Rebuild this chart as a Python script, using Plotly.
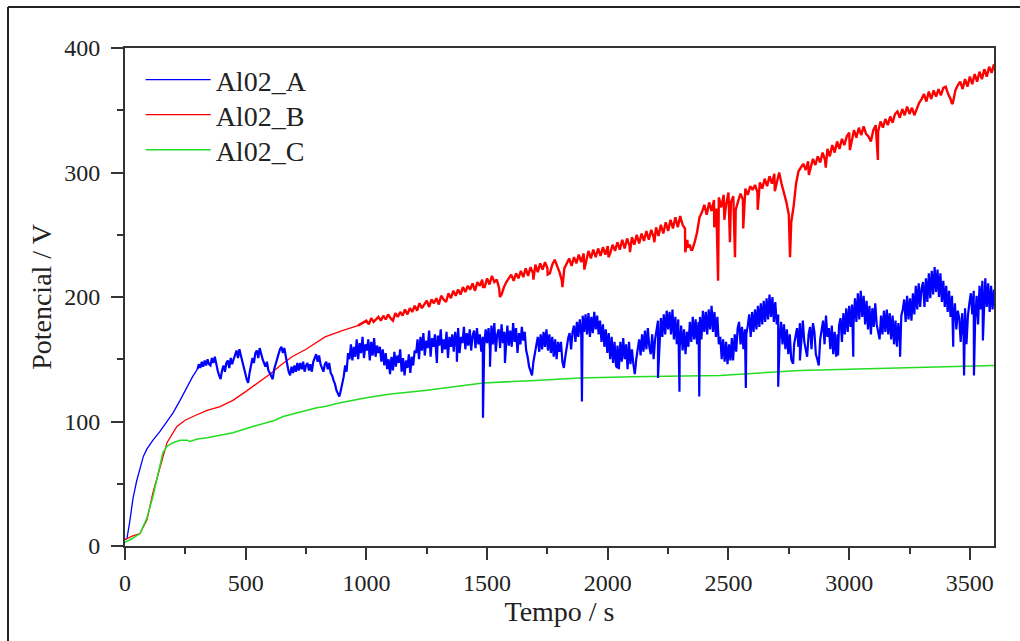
import plotly.graph_objects as go

# ---------------- data ----------------
# Al02_A : smooth rise, then a noisy record sampled every 6 s from 306 s
A_rise_t = [0, 8, 20, 33, 48, 62, 76, 91, 116, 145, 174, 199, 228, 257, 280, 300]
A_rise_v = [5, 6, 20, 38, 52, 63, 72, 78, 85, 92, 100, 107, 117, 128, 136, 142]
A_dense_start, A_dense_step = 306, 6
A_dense_v = [
    146, 143, 148, 144, 149, 145, 150, 146, 145, 151, 147, 152, 145, 141, 137, 134, 141, 145, 140, 147, 149, 143, 151, 146, 150,
    153, 157, 151, 158, 153, 149, 145, 139, 134, 131, 139, 146, 151, 147, 155, 157, 151, 159, 153, 150, 147, 144, 148, 141, 139,
    137, 134, 142, 146, 152, 155, 158, 160, 155, 159, 151, 146, 140, 137, 144, 139, 145, 140, 147, 141, 147, 142, 148, 140, 145,
    147, 141, 146, 140, 148, 151, 154, 148, 153, 146, 142, 140, 146, 148, 142, 147, 139, 137, 133, 130, 125, 122, 120, 125, 130,
    136, 145, 140, 155, 150, 162, 149, 160, 152, 166, 150, 163, 155, 168, 151, 162, 157, 166, 149, 164, 153, 167, 152, 161, 155,
    160, 148, 158, 145, 155, 142, 150, 138, 152, 141, 156, 144, 153, 147, 158, 140, 151, 137, 149, 143, 154, 139, 152, 145, 157,
    155, 166, 150, 168, 157, 171, 153, 165, 159, 173, 152, 167, 160, 170, 154, 169, 161, 174, 155, 166, 158, 172, 151, 168, 160,
    170, 156, 172, 160, 175, 155, 168, 163, 176, 158, 171, 161, 174, 157, 169, 173, 159, 175, 162, 170, 156, 168, 160, 174, 163,
    175, 158, 177, 162, 179, 156, 170, 174, 159, 178, 163, 172, 157, 177, 161, 173, 160, 179, 164, 175, 155, 171, 162, 176, 165,
    172, 157, 152, 144, 140, 137, 148, 155, 163, 168, 156, 170, 158, 172, 160, 174, 157, 170, 155, 168, 152, 166, 150, 164, 156,
    164, 148, 143, 152, 160, 167, 171, 158, 172, 177, 164, 180, 168, 182, 170, 185, 172, 186, 170, 187, 168, 184, 171, 188, 174,
    185, 170, 181, 164, 178, 160, 174, 155, 171, 150, 168, 147, 164, 145, 161, 142, 164, 148, 167, 150, 162, 142, 164, 146, 158,
    146, 138, 150, 160, 166, 153, 170, 156, 173, 158, 175, 160, 154, 170, 150, 166, 174, 181, 164, 183, 168, 186, 170, 189, 174,
    188, 170, 190, 166, 184, 162, 182, 160, 177, 157, 174, 154, 172, 160, 180, 164, 184, 166, 182, 162, 180, 184, 166, 189, 172,
    188, 170, 190, 174, 193, 172, 188, 168, 184, 162, 168, 150, 166, 148, 164, 146, 162, 149, 167, 152, 170, 156, 175, 180, 162,
    176, 158, 174, 170, 177, 186, 168, 188, 172, 190, 174, 193, 176, 195, 178, 197, 180, 199, 182, 202, 184, 200, 180, 196, 178,
    186, 166, 180, 162, 178, 158, 174, 154, 170, 150, 147, 162, 168, 175, 160, 179, 162, 181, 164, 157, 152, 170, 176, 158, 179,
    172, 154, 150, 145, 166, 174, 181, 162, 185, 168, 175, 158, 177, 154, 172, 152, 170, 177, 183, 164, 187, 170, 191, 172, 193,
    176, 194, 178, 199, 180, 203, 182, 205, 184, 201, 178, 197, 174, 193, 170, 191, 176, 195, 178, 172, 166, 185, 170, 189, 172,
    190, 170, 187, 166, 185, 162, 181, 160, 179, 164, 185, 190, 198, 180, 201, 182, 199, 181, 203, 186, 209, 190, 211, 192, 207,
    212, 192, 215, 196, 219, 199, 221, 202, 224, 204, 222, 200, 219, 196, 213, 192, 209, 188, 205, 184, 201, 180, 195, 174, 189,
    183, 164, 187, 168, 191, 162, 185, 195, 203, 186, 205, 182, 201, 178, 209, 190, 213, 186, 215, 192, 211, 188, 209, 190, 206,
]
A_spike_t = [1292, 1375, 1483, 1512, 1574, 1893, 2038, 2208, 2297, 2379, 2472,
             2519, 2572, 2706, 2768, 2796, 2954, 3017, 3211, 3431, 3476, 3517, 3554]
A_spike_v = [147, 148, 103, 144, 147, 116, 143, 135, 124, 120, 151,
             149, 127, 128, 147, 149, 153, 152, 152, 160, 137, 137, 165]

# Al02_B : smooth part, then noisy record sampled every 10 s from 1000 s
B_rise_t = [0, 8, 30, 62, 91, 116, 145, 174, 215, 249, 282, 340, 394, 447,
            500, 551, 600, 650, 692, 750, 829, 900, 965]
B_rise_v = [5, 6, 8, 10, 21, 43, 63, 83, 96, 101, 104, 109, 112, 117,
            124, 131, 138, 146, 152, 158, 168, 173, 177]
B_dense_start, B_dense_step = 1000, 10
B_dense_v = [
    181, 178, 183, 180, 182, 184, 181, 185, 182, 186, 183, 181, 187, 184, 188, 185, 190, 186, 191, 188,
    193, 189, 195, 191, 194, 197, 192, 198, 195, 199, 194, 201, 198, 196, 203, 199, 205, 201, 206, 202,
    208, 204, 209, 206, 211, 205, 212, 209, 214, 208, 215, 210, 217, 212, 214, 207, 202, 208, 212, 215,
    218, 213, 219, 215, 221, 216, 223, 217, 224, 219, 226, 220, 227, 222, 228, 223, 219, 226, 230, 225,
    220, 213, 223, 227, 231, 225, 232, 227, 234, 228, 235, 229, 237, 231, 238, 232, 239, 233, 240, 234,
    241, 235, 242, 237, 244, 238, 246, 239, 247, 241, 248, 242, 250, 243, 251, 245, 253, 246, 254, 248,
    256, 249, 258, 251, 260, 253, 262, 255, 264, 256, 265, 258, 255, 246, 242, 238, 244, 252, 264, 268,
    274, 266, 276, 269, 278, 271, 280, 272, 282, 274, 284, 276, 281, 270, 277, 283, 278, 287, 282, 289,
    286, 290, 284, 292, 287, 295, 289, 297, 291, 299, 293, 300, 291, 284, 276, 266, 260, 273, 291, 301,
    304, 307, 302, 309, 304, 311, 306, 313, 308, 316, 310, 319, 313, 322, 316, 325, 319, 327, 322, 329,
    332, 326, 334, 328, 336, 330, 337, 331, 329, 325, 334, 338, 333, 341, 336, 343, 338, 345, 340, 347,
    349, 344, 351, 346, 353, 347, 352, 346, 351, 356, 359, 363, 357, 365, 359, 366, 361, 367, 362, 368,
    369, 363, 359, 356, 366, 370, 373, 367, 375, 369, 377, 371, 379, 373, 381, 375, 383, 377, 385, 380,
    387,
]
B_spike_t = [1483, 1553, 1692, 1751, 1812, 1903, 2003, 2092, 2193, 2321, 2331, 2345,
             2441, 2457, 2483, 2506, 2527, 2561, 2621, 2692, 2755, 2833, 2903,
             3003, 3119, 3426]
B_spike_v = [208, 200, 214, 218, 208, 222, 232, 236, 244, 236, 240, 238,
             256, 213, 262, 244, 232, 255, 270, 285, 232, 298, 304,
             318, 310, 355]

# Al02_C : smooth curve
C_t = [0, 30, 62, 90, 116, 140, 157, 174, 199, 228, 257, 269, 300, 340, 394, 447,
       530, 621, 655, 795, 829, 891, 1000, 1100, 1243, 1483, 1700, 1885, 2100,
       2328, 2465, 2796, 3000, 3211, 3400, 3600]
C_v = [3, 6, 10, 22, 40, 60, 75, 80, 83, 85, 85, 84, 86, 87, 89, 91,
       96, 101, 104, 111, 112, 115, 119, 122, 125, 131, 133, 135, 136,
       137, 137, 141, 142, 143, 144, 145]

x_ticks = [0, 500, 1000, 1500, 2000, 2500, 3000, 3500]
y_ticks = [0, 100, 200, 300, 400]
names = ["Al02_A", "Al02_B", "Al02_C"]
colors = ["#0000ff", "#ff0000", "#22dd22"]


def noisy_part(rise_t, rise_v, start, step, dense_v, spike_t, spike_v):
    dense_t = [start + i * step for i in range(len(dense_v))]
    pts = [(rise_t[-1], rise_v[-1])] + list(zip(dense_t, dense_v)) + list(zip(spike_t, spike_v))
    pts.sort(key=lambda p: p[0])
    return [p[0] for p in pts], [p[1] for p in pts]


A_nt, A_nv = noisy_part(A_rise_t, A_rise_v, A_dense_start, A_dense_step, A_dense_v, A_spike_t, A_spike_v)
B_nt, B_nv = noisy_part(B_rise_t, B_rise_v, B_dense_start, B_dense_step, B_dense_v, B_spike_t, B_spike_v)

FONT = "Liberation Serif, Times New Roman, serif"

fig = go.Figure()
# smooth parts (shown in legends)
fig.add_trace(go.Scatter(x=A_rise_t, y=A_rise_v, mode="lines", name=names[0], legendgroup="A",
                         legend="legend", line=dict(color=colors[0], width=1.3)))
fig.add_trace(go.Scatter(x=B_rise_t, y=B_rise_v, mode="lines", name=names[1], legendgroup="B",
                         legend="legend2", line=dict(color=colors[1], width=1.3)))
fig.add_trace(go.Scatter(x=C_t, y=C_v, mode="lines", name=names[2], legendgroup="C",
                         legend="legend3", line=dict(color=colors[2], width=1.5)))
# noisy parts (same series, continued)
fig.add_trace(go.Scatter(x=B_nt, y=B_nv, mode="lines", name=names[1], legendgroup="B", showlegend=False,
                         line=dict(color=colors[1], width=2.4)))
fig.add_trace(go.Scatter(x=A_nt, y=A_nv, mode="lines", name=names[0], legendgroup="A", showlegend=False,
                         line=dict(color=colors[0], width=2.2)))

axis_common = dict(
    showline=True, linecolor="#333", linewidth=2, mirror=True,
    ticks="outside", ticklen=12, tickwidth=2, tickcolor="#333",
    showgrid=False, zeroline=False,
    tickfont=dict(family=FONT, size=24, color="#222"),
)
fig.update_xaxes(range=[0, 3600], tickvals=x_ticks, ticklabelstandoff=2,
                 minor=dict(ticks="outside", ticklen=6, tickwidth=2, tickcolor="#333", dtick=250, tick0=0, showgrid=False),
                 title=dict(text="Tempo / s", font=dict(family=FONT, size=28, color="#222"), standoff=2),
                 **axis_common)
fig.update_yaxes(range=[0, 400], tickvals=y_ticks, ticklabelstandoff=6,
                 minor=dict(ticks="outside", ticklen=6, tickwidth=2, tickcolor="#333", dtick=50, tick0=0, showgrid=False),
                 title=dict(text="Potencial / V", font=dict(family=FONT, size=28, color="#222"), standoff=4),
                 **axis_common)

leg = dict(x=0.018, xanchor="left", yanchor="middle", bgcolor="rgba(0,0,0,0)",
           font=dict(family=FONT, size=28, color="#222"), itemwidth=65)
fig.update_layout(
    width=1020, height=641,
    margin=dict(l=125, r=26, t=48, b=95),
    paper_bgcolor="white", plot_bgcolor="white",
    showlegend=True,
    legend=dict(leg, y=(546 - 80) / 498),
    legend2=dict(leg, y=(546 - 115) / 498),
    legend3=dict(leg, y=(546 - 150) / 498),
)

# outer frame (left and top edges visible in the picture)
fig.add_shape(type="line", xref="paper", yref="paper",
              x0=(8 - 125) / 869, x1=(8 - 125) / 869, y0=(546 - 7) / 498, y1=(546 - 645) / 498,
              line=dict(color="#222", width=2))
fig.add_shape(type="line", xref="paper", yref="paper",
              x0=(8 - 125) / 869, x1=(1025 - 125) / 869, y0=(546 - 7) / 498, y1=(546 - 7) / 498,
              line=dict(color="#222", width=2))

fig.write_html("out.html")
